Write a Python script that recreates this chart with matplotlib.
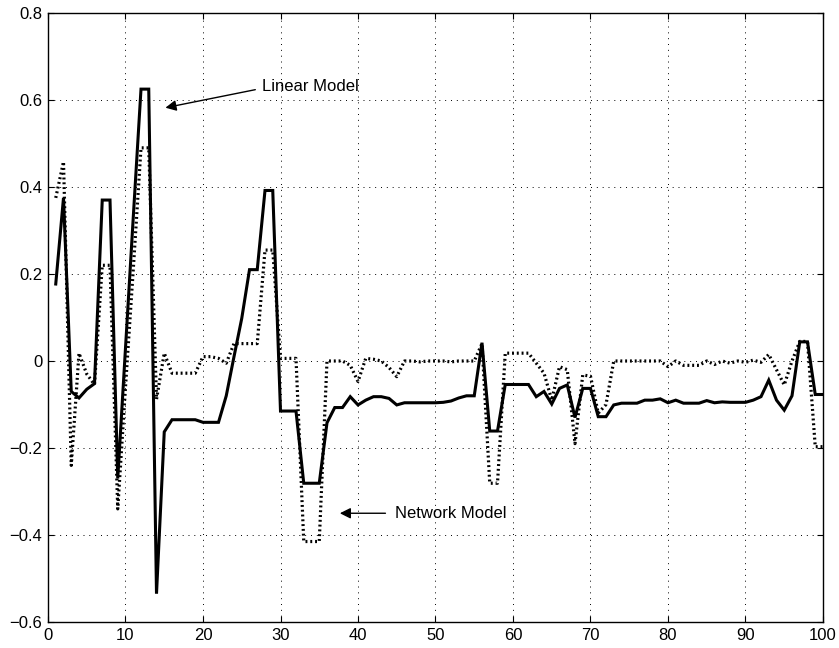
# 线性模型与网络模型误差对比图
import numpy as np
import matplotlib
matplotlib.use('Agg')
import matplotlib.pyplot as plt

# 横轴：样本序号 1..100
x = np.arange(1, 101)

# 线性模型（实线）
linear_model = [
    0.177, 0.375, -0.07, -0.085, -0.065, -0.052, 0.37, 0.37, -0.27, 0.03,
    0.33, 0.625, 0.625, -0.535, -0.163, -0.135, -0.135, -0.135, -0.135, -0.141,
    -0.141, -0.141, -0.08, 0.01, 0.098, 0.21, 0.21, 0.392, 0.392, -0.115,
    -0.115, -0.115, -0.281, -0.281, -0.281, -0.142, -0.107, -0.107, -0.082, -0.101,
    -0.09, -0.082, -0.082, -0.086, -0.101, -0.096, -0.096, -0.096, -0.096, -0.096,
    -0.095, -0.092, -0.085, -0.08, -0.08, 0.042, -0.161, -0.161, -0.054, -0.054,
    -0.054, -0.054, -0.082, -0.07, -0.099, -0.063, -0.055, -0.13, -0.063, -0.063,
    -0.128, -0.128, -0.101, -0.097, -0.097, -0.097, -0.09, -0.09, -0.087, -0.096,
    -0.09, -0.097, -0.097, -0.097, -0.091, -0.096, -0.094, -0.095, -0.095, -0.095,
    -0.09, -0.082, -0.044, -0.09, -0.113, -0.08, 0.044, 0.044, -0.077, -0.077,
]

# 网络模型（点线）
network_model = [
    0.375, 0.458, -0.24, 0.018, -0.03, -0.054, 0.22, 0.22, -0.34, -0.06,
    0.21, 0.49, 0.49, -0.088, 0.018, -0.028, -0.028, -0.028, -0.028, 0.01,
    0.01, 0.006, -0.005, 0.04, 0.04, 0.04, 0.04, 0.255, 0.255, 0.006,
    0.006, 0.006, -0.415, -0.415, -0.415, 0.0, 0.0, 0.0, -0.01, -0.047,
    0.006, 0.004, 0.0, -0.015, -0.036, 0.0, 0.0, -0.002, 0.0, 0.0,
    0.0, -0.002, 0.0, 0.0, 0.0, 0.04, -0.281, -0.281, 0.018, 0.018,
    0.018, 0.018, -0.005, -0.028, -0.09, -0.013, -0.02, -0.19, -0.032, -0.035,
    -0.12, -0.10, 0.0, 0.0, 0.0, 0.0, 0.0, 0.0, 0.0, -0.013,
    0.0, -0.01, -0.01, -0.01, 0.0, -0.008, 0.0, -0.005, 0.0, -0.003,
    0.002, -0.003, 0.015, -0.02, -0.055, 0.0, 0.045, 0.045, -0.197, -0.197,
]

# 坐标刻度
x_ticks = [0, 10, 20, 30, 40, 50, 60, 70, 80, 90, 100]
y_ticks = [-0.6, -0.4, -0.2, 0, 0.2, 0.4, 0.6, 0.8]
y_tick_labels = ['\u22120.6', '\u22120.4', '\u22120.2', '0', '0.2', '0.4', '0.6', '0.8']

plt.rcParams['font.family'] = ['Liberation Sans', 'DejaVu Sans']

fig = plt.figure(figsize=(8.39, 6.48), dpi=100)
ax = fig.add_axes([48 / 839, 26 / 648, 775 / 839, 609 / 648])

ax.plot(x, linear_model, color='k', lw=2.2, solid_joinstyle='miter')
ax.plot(x, network_model, color='k', lw=2.3, linestyle=(0, (0.6, 0.9)))

ax.set_xlim(0, 100)
ax.set_ylim(-0.6, 0.8)
ax.set_xticks(x_ticks)
ax.set_yticks(y_ticks)
ax.set_yticklabels(y_tick_labels)
ax.tick_params(direction='in', length=4, width=0.8, top=True, right=True,
               labelsize=12, pad=4)
for s in ax.spines.values():
    s.set_linewidth(1.0)

# 网格：黑色点线
ax.grid(True, color='k', lw=0.7, linestyle=(0, (1, 5)))

# 标注
ax.annotate('', xy=(14.8, 0.581), xytext=(27.1, 0.625),
            arrowprops=dict(arrowstyle='-|>', color='k', lw=1.0, mutation_scale=16))
ax.text(27.6, 0.63, 'Linear Model', fontsize=12, ha='left', va='center')

ax.annotate('', xy=(37.3, -0.35), xytext=(43.9, -0.35),
            arrowprops=dict(arrowstyle='-|>', color='k', lw=1.0, mutation_scale=16))
ax.text(44.8, -0.35, 'Network Model', fontsize=12, ha='left', va='center')

fig.savefig('out.png', dpi=100)
